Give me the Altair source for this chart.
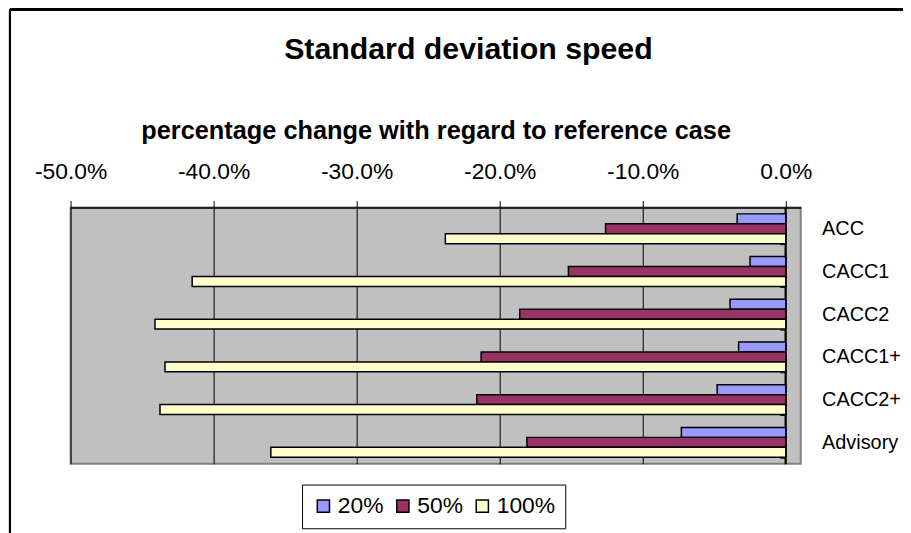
import altair as alt
import pandas as pd

categories = ["ACC", "CACC1", "CACC2", "CACC1+", "CACC2+", "Advisory"]
series = ["20%", "50%", "100%"]
s20 = [-3.4, -2.5, -3.9, -3.3, -4.8, -7.3]
s50 = [-12.6, -15.2, -18.6, -21.3, -21.6, -18.1]
s100 = [-23.8, -41.5, -44.1, -43.4, -43.75, -36.0]
colors = ["#9999FF", "#993366", "#FFFFCC"]
tick_values = [-0.5, -0.4, -0.3, -0.2, -0.1, 0.0]

rows = []
for name, vals in zip(series, [s20, s50, s100]):
    for c, v in zip(categories, vals):
        rows.append({"Category": c, "Series": name, "Value": v / 100.0})
df = pd.DataFrame(rows)

FONT = "Liberation Sans"

bars = alt.Chart(df).mark_bar(stroke="black", strokeWidth=1.5).encode(
    x=alt.X("Value:Q",
            scale=alt.Scale(domain=[-0.5, 0.0104], nice=False, zero=False),
            axis=alt.Axis(orient="top", values=tick_values,
                          labelExpr="replace(format(datum.value, '.1%'), '\u2212', '-')",
                          grid=True, gridColor="black", gridOpacity=1, gridWidth=1,
                          domainColor="black", domainWidth=1.5,
                          tickColor="black", tickSize=7, tickWidth=1,
                          labelFontSize=23, labelFont=FONT, labelColor="black",
                          labelPadding=17, labelFlush=False,
                          title="percentage change with regard to reference case",
                          titleFont=FONT, titleFontSize=25.5, titleFontWeight="bold",
                          titleColor="black", titlePadding=17)),
    x2=alt.datum(0),
    y=alt.Y("Category:N", sort=categories,
            scale=alt.Scale(paddingInner=0.302, paddingOuter=0.151),
            axis=alt.Axis(orient="left", offset=-719, title=None,
                          domainColor="black", domainWidth=1.5,
                          tickColor="black", tickSize=5, tickBand="extent",
                          labelAlign="left", labelPadding=-42,
                          labelFontSize=20, labelFont=FONT, labelColor="black")),
    yOffset=alt.YOffset("Series:N", sort=series,
                        scale=alt.Scale(paddingInner=0, paddingOuter=0)),
    color=alt.Color("Series:N", sort=series,
                    scale=alt.Scale(domain=series, range=colors),
                    legend=alt.Legend(orient="none", legendX=233, legendY=279,
                                      direction="horizontal", title=None,
                                      strokeColor="black", fillColor="white",
                                      padding=10, symbolType="square", symbolSize=150,
                                      symbolStrokeColor="black", symbolStrokeWidth=1.5,
                                      labelFontSize=23, labelFont=FONT,
                                      labelColor="black", columnPadding=7,
                                      labelOffset=3)),
)

left_border = alt.Chart(df).mark_rule(color="black", strokeWidth=2).encode(
    x=alt.value(-61), y=alt.value(-199), y2=alt.value(330))
top_border = alt.Chart(df).mark_rule(color="black", strokeWidth=2).encode(
    x=alt.value(-61), x2=alt.value(850), y=alt.value(-199))

chart = alt.layer(bars, left_border, top_border).properties(
    width=735, height=258,
    title=alt.Title("Standard deviation speed", fontSize=30.5, fontWeight="bold",
                    font=FONT, color="black", offset=-57, dx=33),
    autosize=alt.AutoSizeParams(type="none"),
    padding={"left": 63, "top": 199, "right": 103, "bottom": 68},
).configure_view(fill="#C0C0C0", stroke="#808080", strokeWidth=2)

chart.save("out.html", embed_options={"renderer": "svg", "actions": False})
